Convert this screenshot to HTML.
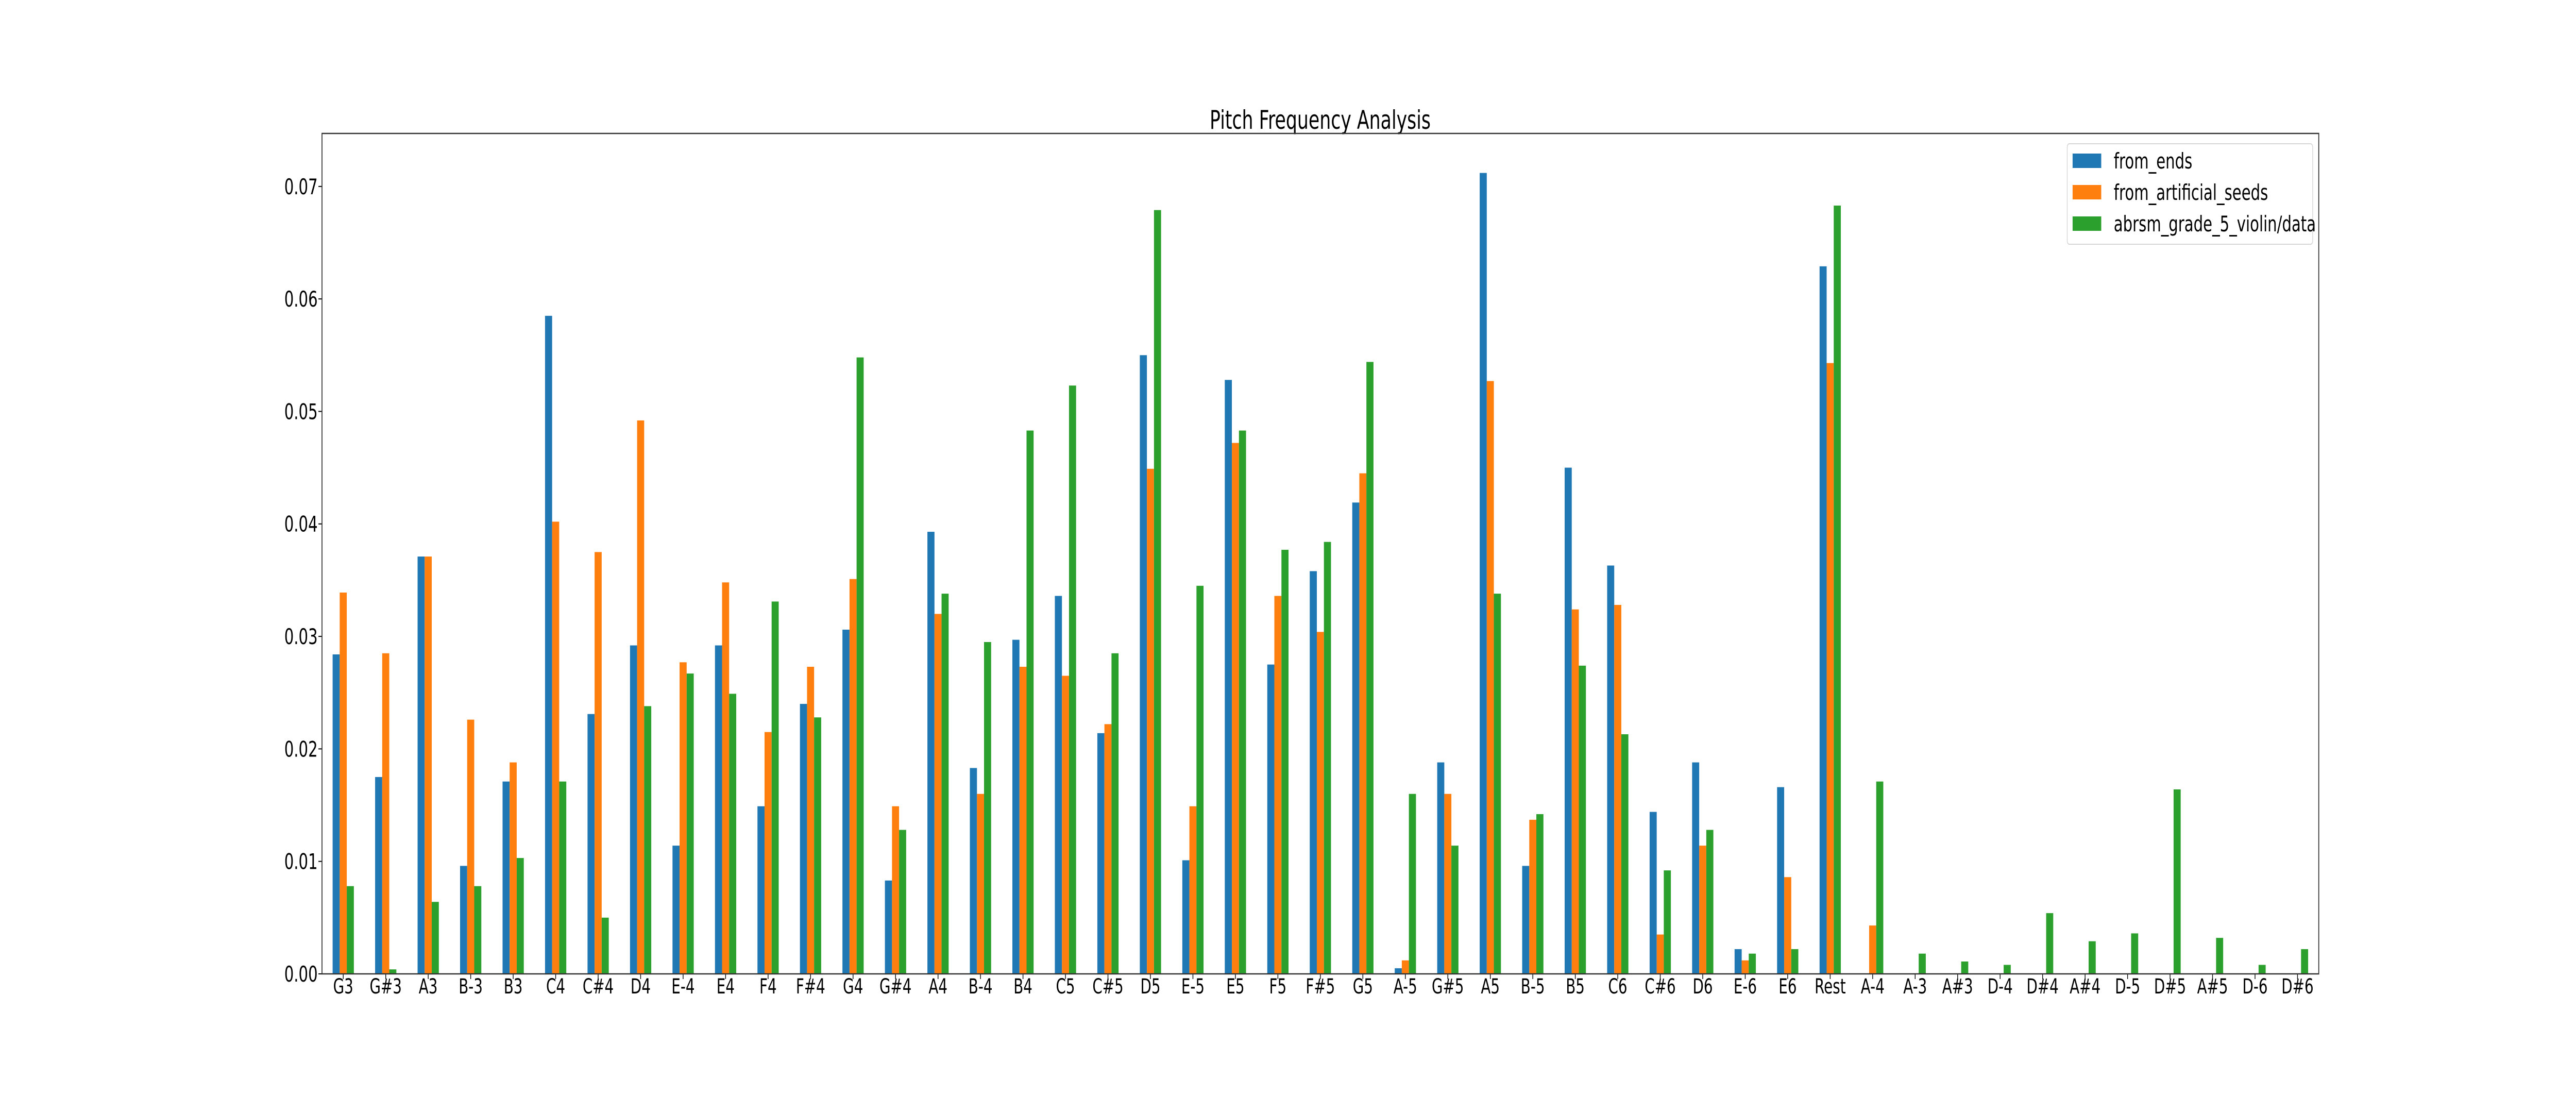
<!DOCTYPE html>
<html><head><meta charset="utf-8"><style>
html,body{margin:0;padding:0;background:#fff;width:100%;height:100%;overflow:hidden;}
svg{display:block;width:100vw;height:100vh;font-family:"DejaVu Sans","Liberation Sans",sans-serif;}
</style></head><body>
<svg id="chart" viewBox="0 0 7200 2160" preserveAspectRatio="none" xmlns="http://www.w3.org/2000/svg">
<rect x="0" y="0" width="7200" height="2160" fill="#fff"/>
<text x="3690" y="250" font-size="50" text-anchor="middle" fill="#000">Pitch Frequency Analysis</text>
<g id="bars"></g>
<g id="axes"></g>
<g>
<rect x="5778" y="279" width="686" height="195" rx="6" fill="#fff" fill-opacity="0.8" stroke="#d6d6d6" stroke-width="2"/>
<rect x="5793" y="298" width="80" height="28" fill="#1f77b4"/>
<text x="5908" y="327" font-size="42">from_ends</text>
<rect x="5793" y="359" width="80" height="28" fill="#ff7f0e"/>
<text x="5908" y="388" font-size="42">from_artificial_seeds</text>
<rect x="5793" y="420" width="80" height="28" fill="#2ca02c"/>
<text x="5908" y="449" font-size="42">abrsm_grade_5_violin/data</text>
</g>
</svg>
<script>
const categories = ["G3","G#3","A3","B-3","B3","C4","C#4","D4","E-4","E4","F4","F#4","G4","G#4","A4","B-4","B4","C5","C#5","D5","E-5","E5","F5","F#5","G5","A-5","G#5","A5","B-5","B5","C6","C#6","D6","E-6","E6","Rest","A-4","A-3","A#3","D-4","D#4","A#4","D-5","D#5","A#5","D-6","D#6"];
const fromEnds = [0.0284,0.0175,0.0371,0.0096,0.0171,0.0585,0.0231,0.0292,0.0114,0.0292,0.0149,0.0240,0.0306,0.0083,0.0393,0.0183,0.0297,0.0336,0.0214,0.0550,0.0101,0.0528,0.0275,0.0358,0.0419,0.0005,0.0188,0.0712,0.0096,0.0450,0.0363,0.0144,0.0188,0.0022,0.0166,0.0629,0,0,0,0,0,0,0,0,0,0,0];
const fromSeeds = [0.0339,0.0285,0.0371,0.0226,0.0188,0.0402,0.0375,0.0492,0.0277,0.0348,0.0215,0.0273,0.0351,0.0149,0.0320,0.0160,0.0273,0.0265,0.0222,0.0449,0.0149,0.0472,0.0336,0.0304,0.0445,0.0012,0.0160,0.0527,0.0137,0.0324,0.0328,0.0035,0.0114,0.0012,0.0086,0.0543,0.0043,0,0,0,0,0,0,0,0,0,0];
const abrsm = [0.0078,0.0004,0.0064,0.0078,0.0103,0.0171,0.0050,0.0238,0.0267,0.0249,0.0331,0.0228,0.0548,0.0128,0.0338,0.0295,0.0483,0.0523,0.0285,0.0679,0.0345,0.0483,0.0377,0.0384,0.0544,0.0160,0.0114,0.0338,0.0142,0.0274,0.0213,0.0092,0.0128,0.0018,0.0022,0.0683,0.0171,0.0018,0.0011,0.0008,0.0054,0.0029,0.0036,0.0164,0.0032,0.0008,0.0022];
const yTicks = [0,0.01,0.02,0.03,0.04,0.05,0.06,0.07];
const yTickLabels = ["0.00","0.01","0.02","0.03","0.04","0.05","0.06","0.07"];

const NS="http://www.w3.org/2000/svg";
const L=900,R=6481,T=259,B=1890,YMAX=0.07471;
const unit=(R-L)/categories.length;
function xPos(i){return L+(i+0.5)*unit;}
function yPos(v){return B-(v/YMAX)*(B-T);}
function mk(tag,attrs,parent){const e=document.createElementNS(NS,tag);for(const k in attrs)e.setAttribute(k,attrs[k]);parent.appendChild(e);return e;}
const bars=document.getElementById('bars'), axes=document.getElementById('axes');
const series=[[fromEnds,'#1f77b4','from-ends'],[fromSeeds,'#ff7f0e','from-artificial-seeds'],[abrsm,'#2ca02c','abrsm']];
const bw=unit/6;
series.forEach((s,si)=>{
  s[0].forEach((v,i)=>{
    if(v<=0)return;
    const x=xPos(i)-1.5*bw+si*bw;
    const r=mk('rect',{x:x,y:yPos(v),width:bw,height:B-yPos(v),fill:s[1]},bars);
    
    
  });
});
yTicks.forEach((t,i)=>{
  const y=yPos(t);
  const l=mk('line',{x1:L-10,x2:L,y1:y,y2:y,stroke:'#000','stroke-width':2},axes);
  
  
  const tx=mk('text',{x:L-12,y:y+15,'font-size':42,'text-anchor':'end'},axes);
  tx.textContent=yTickLabels[i];
  
  
});
categories.forEach((c,i)=>{
  const x=xPos(i);
  const l=mk('line',{x1:x,x2:x,y1:B,y2:B+10,stroke:'#000','stroke-width':2},axes);
  
  
  const tx=mk('text',{x:x,y:1928,'font-size':40,'text-anchor':'middle'},axes);
  tx.textContent=c;
  
  
});
const frame=mk('rect',{x:L,y:T,width:R-L,height:B-T,fill:'none',stroke:'#333','stroke-width':2.5},axes);


</script>
</body></html>
